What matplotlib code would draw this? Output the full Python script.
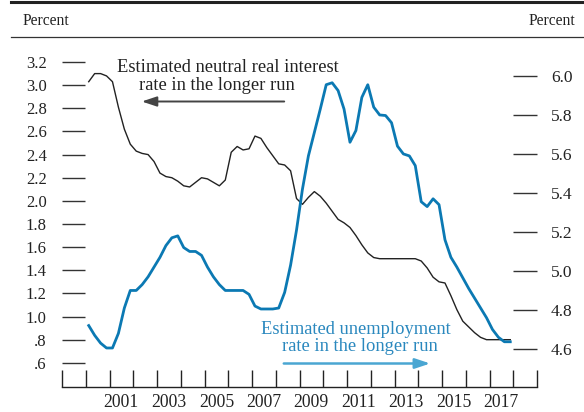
import numpy as np
import matplotlib
matplotlib.use("Agg")
import matplotlib.pyplot as plt
from matplotlib.lines import Line2D

plt.rcParams['font.family'] = ['Liberation Serif', 'DejaVu Serif']

# quarterly estimates, 2000:Q1 - 2017:Q4
years = np.arange(2000.125, 2018.0, 0.25)

neutral_rate = [3.03, 3.10, 3.10, 3.08, 3.03, 2.81, 2.62, 2.49,
                2.43, 2.41, 2.40, 2.34, 2.24, 2.21, 2.20, 2.17,
                2.13, 2.12, 2.16, 2.20, 2.19, 2.16, 2.13, 2.18,
                2.42, 2.47, 2.44, 2.45, 2.56, 2.54, 2.46, 2.39,
                2.32, 2.31, 2.26, 2.02, 1.97, 2.03, 2.08, 2.04,
                1.98, 1.91, 1.84, 1.81, 1.77, 1.70, 1.62, 1.55,
                1.51, 1.50, 1.50, 1.50, 1.50, 1.50, 1.50, 1.50,
                1.48, 1.42, 1.34, 1.30, 1.29, 1.18, 1.06, 0.96,
                0.91, 0.86, 0.82, 0.80, 0.80, 0.80, 0.80, 0.80]

unemp_rate = [4.72, 4.67, 4.63, 4.605, 4.605, 4.68, 4.81, 4.90,
              4.90, 4.93, 4.97, 5.02, 5.07, 5.13, 5.17, 5.18,
              5.12, 5.10, 5.10, 5.08, 5.02, 4.97, 4.93, 4.90,
              4.90, 4.90, 4.90, 4.88, 4.82, 4.805, 4.805, 4.805,
              4.81, 4.89, 5.03, 5.21, 5.42, 5.59, 5.71, 5.83,
              5.955, 5.965, 5.925, 5.83, 5.66, 5.72, 5.89, 5.955,
              5.84, 5.80, 5.797, 5.76, 5.64, 5.60, 5.59, 5.54,
              5.355, 5.33, 5.37, 5.34, 5.16, 5.07, 5.02, 4.965,
              4.91, 4.86, 4.81, 4.76, 4.70, 4.66, 4.637, 4.637]

left_ticks = [0.6, 0.8, 1.0, 1.2, 1.4, 1.6, 1.8, 2.0, 2.2, 2.4, 2.6, 2.8, 3.0, 3.2]
left_labels = ['.6', '.8', '1.0', '1.2', '1.4', '1.6', '1.8', '2.0',
               '2.2', '2.4', '2.6', '2.8', '3.0', '3.2']
right_ticks = [4.6, 4.8, 5.0, 5.2, 5.4, 5.6, 5.8, 6.0]
year_labels = [2001, 2003, 2005, 2007, 2009, 2011, 2013, 2015, 2017]

blue = '#0b79b3'
txt = '#222222'

W, H = 584, 412
fig = plt.figure(figsize=(W / 100, H / 100), dpi=100)
ax = fig.add_axes([62 / W, (H - 387) / H, (537 - 62) / W, (387 - 50) / H])
ax2 = ax.twinx()

ax.plot(years, neutral_rate, color='#222222', lw=1.0)
ax2.plot(years, unemp_rate, color=blue, lw=2.0)

ax.set_xlim(1999, 2019)
ax.set_ylim(0.391, 3.304)
ax2.set_ylim(4.405, 6.133)

for a in (ax, ax2):
    for s in ('top', 'left', 'right'):
        a.spines[s].set_visible(False)
ax2.spines['bottom'].set_visible(False)
ax.spines['bottom'].set_color('#222222')
ax.spines['bottom'].set_linewidth(1.0)

ax.set_yticks(left_ticks)
ax.set_yticklabels(left_labels)
ax.tick_params(axis='y', direction='in', length=16.5, width=1.0, color='#333333',
               pad=11, labelsize=12, labelcolor=txt)
ax2.set_yticks(right_ticks)
ax2.set_yticklabels(['%.1f' % v for v in right_ticks])
ax2.tick_params(axis='y', direction='in', length=17, width=1.0, color='#333333',
                pad=10, labelsize=12.5, labelcolor=txt)

ax.set_xticks(range(1999, 2020))
ax.set_xticklabels([])
ax.set_xticks([y + 0.5 for y in year_labels], minor=True)
ax.set_xticklabels([str(y) for y in year_labels], minor=True)
ax.tick_params(axis='x', which='major', direction='in', length=12.5, width=1.0,
               color='#222222')
ax.tick_params(axis='x', which='minor', length=0, pad=5, labelsize=12.7,
               labelcolor=txt)

# header rules and unit labels
fig.add_artist(Line2D([11 / W, 1], [1 - 2 / H, 1 - 2 / H], color='#222222', lw=2.2))
fig.add_artist(Line2D([11 / W, 1], [1 - 37 / H, 1 - 37 / H], color='#333333', lw=0.9))
fig.text(23 / W, 1 - 21 / H, 'Percent', ha='left', va='center', fontsize=11.2, color=txt)
fig.text(575 / W, 1 - 21 / H, 'Percent', ha='right', va='center', fontsize=11.2, color=txt)

# annotations
fig.text(228 / W, 1 - 67 / H, 'Estimated neutral real interest', ha='center',
         va='center', fontsize=13.3, color=txt)
fig.text(217 / W, 1 - 86 / H, 'rate in the longer run', ha='center',
         va='center', fontsize=13.3, color=txt)
ax.annotate('', xy=(139 / W, 1 - 101.5 / H), xytext=(287 / W, 1 - 101.5 / H),
            xycoords='figure fraction', textcoords='figure fraction',
            arrowprops=dict(arrowstyle='-|>,head_length=0.9,head_width=0.3',
                            color='#444444', lw=1.4))

fig.text(356 / W, 1 - 329 / H, 'Estimated unemployment', ha='center',
         va='center', fontsize=13.3, color='#2a88be')
fig.text(360 / W, 1 - 346.5 / H, 'rate in the longer run', ha='center',
         va='center', fontsize=13.3, color='#2a88be')
ax.annotate('', xy=(433 / W, 1 - 363.5 / H), xytext=(281 / W, 1 - 363.5 / H),
            xycoords='figure fraction', textcoords='figure fraction',
            arrowprops=dict(arrowstyle='-|>,head_length=0.9,head_width=0.3',
                            color='#4aa6d2', lw=1.8))

fig.savefig('out.png', dpi=100)
